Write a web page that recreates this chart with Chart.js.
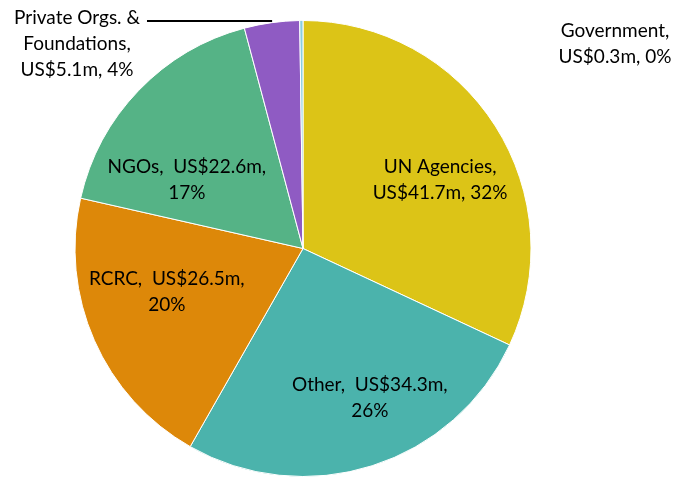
<!DOCTYPE html>
<html><head><meta charset="utf-8">
<script src="https://cdn.jsdelivr.net/npm/chart.js@4"></script>
<style>html,body{margin:0;padding:0;background:#fff;}#wrap{width:675px;height:477px;}</style>
</head><body><div id="wrap"><canvas id="c" width="675" height="477"></canvas></div>
<script>
const categories = ["UN Agencies", "Other", "RCRC", "NGOs", "Private Orgs. & Foundations", "Government"];
const values = [41.7, 34.3, 26.5, 22.6, 5.1, 0.3];
const percents = ["32%", "26%", "20%", "17%", "4%", "0%"];
const labelLines = [
  ["UN Agencies,", "US$41.7m, 32%"],
  ["Other,  US$34.3m,", "26%"],
  ["RCRC,  US$26.5m,", "20%"],
  ["NGOs,  US$22.6m,", "17%"],
  ["Private Orgs. &", "Foundations,", "US$5.1m, 4%"],
  ["Government,", "US$0.3m, 0%"]
];
const colors = ["#DCC417", "#4BB3AC", "#DD8809", "#55B386", "#8F5BC3", "#8ACEE0"];
// label placement: [radius fraction, angle offset from slice middle (deg)] or absolute for outside labels
const labelPlace = [
  {frac: 0.673, dAng: 5.8},
  {frac: 0.716, dAng: -6.5},
  {frac: 0.627, dAng: 6.1},
  {frac: 0.592, dAng: -13.3},
  {abs: [77, 44], leader: true},
  {abs: [615, 44]}
];
const FONT = '19px "Lato", "Open Sans", sans-serif';
const lineH = 26;

const labelPlugin = {
  id: 'sliceLabels',
  afterDatasetsDraw(chart) {
    const ctx = chart.ctx;
    const arcs = chart.getDatasetMeta(0).data;
    ctx.save();
    ctx.font = FONT;
    ctx.fillStyle = '#000';
    ctx.textAlign = 'center';
    ctx.textBaseline = 'middle';
    arcs.forEach((arc, i) => {
      const p = labelPlace[i];
      const lines = labelLines[i];
      let cx, cy;
      if (p.abs) {
        cx = p.abs[0]; cy = p.abs[1];
      } else {
        const mid = (arc.startAngle + arc.endAngle) / 2 + p.dAng * Math.PI / 180;
        const r = arc.outerRadius * p.frac;
        cx = arc.x + Math.cos(mid) * r;
        cy = arc.y + Math.sin(mid) * r;
      }
      const top = cy - (lines.length - 1) * lineH / 2;
      lines.forEach((t, k) => ctx.fillText(t, cx, top + k * lineH));
      if (p.leader) {
        const mid = (arc.startAngle + arc.endAngle) / 2;
        const ex = arc.x + Math.cos(mid) * arc.outerRadius * 0.99;
        const w = ctx.measureText(lines[0]).width;
        const sx = cx + w / 2 + 7;
        const ly = top + 3;
        ctx.beginPath();
        ctx.strokeStyle = '#000';
        ctx.lineWidth = 2;
        ctx.moveTo(sx, ly);
        ctx.lineTo(ex, ly);
        ctx.stroke();
      }
    });
    ctx.restore();
  }
};

new Chart(document.getElementById('c'), {
  type: 'pie',
  data: {
    labels: categories,
    datasets: [{
      data: values,
      backgroundColor: colors,
      borderColor: '#ffffff',
      borderWidth: 1
    }]
  },
  options: {
    responsive: false,
    animation: false,
    layout: {padding: {top: 20, bottom: 0, left: 0, right: 69}},
    plugins: {legend: {display: false}, tooltip: {enabled: false}}
  },
  plugins: [labelPlugin]
});
</script></body></html>
